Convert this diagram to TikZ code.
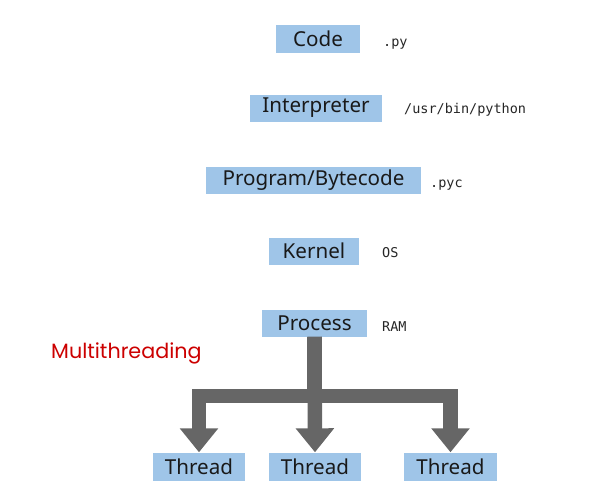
\documentclass[tikz,border=0pt]{standalone}
\usepackage{fontspec}
\setmainfont{Noto Sans}
\setmonofont{DejaVu Sans Mono}
\newfontfamily\titlefont{Poppins}
\usetikzlibrary{arrows.meta}
\definecolor{boxblue}{HTML}{9FC5E8}
\definecolor{arrowgrey}{HTML}{666666}
\definecolor{mtred}{HTML}{CC0000}
\tikzset{
  bluebox/.style={fill=boxblue, inner sep=0pt, minimum height=27pt, text=black!90,
    font=\fontsize{20.6pt}{24pt}\selectfont},
  note/.style={anchor=base west, inner sep=0pt, font=\ttfamily\fontsize{13.5pt}{16pt}\selectfont, text=black!85},
  fatarrow/.style={draw=arrowgrey, line width=14.5pt, line join=miter,
    -{Triangle[width=37pt,length=24pt,fill=arrowgrey]}},
}
\begin{document}
\begin{tikzpicture}[x=1pt,y=-1pt]
\useasboundingbox (0,0) rectangle (610,501);
\node[bluebox, minimum width=84pt, minimum height=28pt] (code) at (318,38.5) {Code};
\node[bluebox, minimum width=132pt] (interp) at (316,108) {Interpreter};
\node[bluebox, minimum width=215pt] (prog) at (313.5,180) {Program/Bytecode};
\node[bluebox, minimum width=90pt] (kernel) at (314,251) {Kernel};
\node[bluebox, minimum width=105pt] (process) at (314.5,323) {Process};
\node[bluebox, minimum width=92pt, minimum height=28pt] (t1) at (199,466.5) {Thread};
\node[bluebox, minimum width=92pt, minimum height=28pt] (t2) at (315,466.5) {Thread};
\node[bluebox, minimum width=93pt, minimum height=28pt] (t3) at (450.5,466.5) {Thread};

\node[note] (npy) at (383,46) {.py};
\node[note] (nbin) at (404,113) {/usr/bin/python};
\node[note] (npyc) at (430,187) {.pyc};
\node[note] (nos) at (382,257) {OS};
\node[note] (nram) at (382,331) {RAM};

\node[anchor=base west, inner sep=0pt, text=mtred, font=\titlefont\fontsize{20.7pt}{24pt}\selectfont] (mt) at (51,358) {Multithreading};

\coordinate (junc) at (process.south |- 0,396);
\draw[fatarrow] (process.south) -- (junc) -| (t1.north);
\draw[fatarrow] (process.south) -- (junc) -| (t3.north);
\draw[fatarrow] (process.south) -- (t2.north);
\end{tikzpicture}
\end{document}
